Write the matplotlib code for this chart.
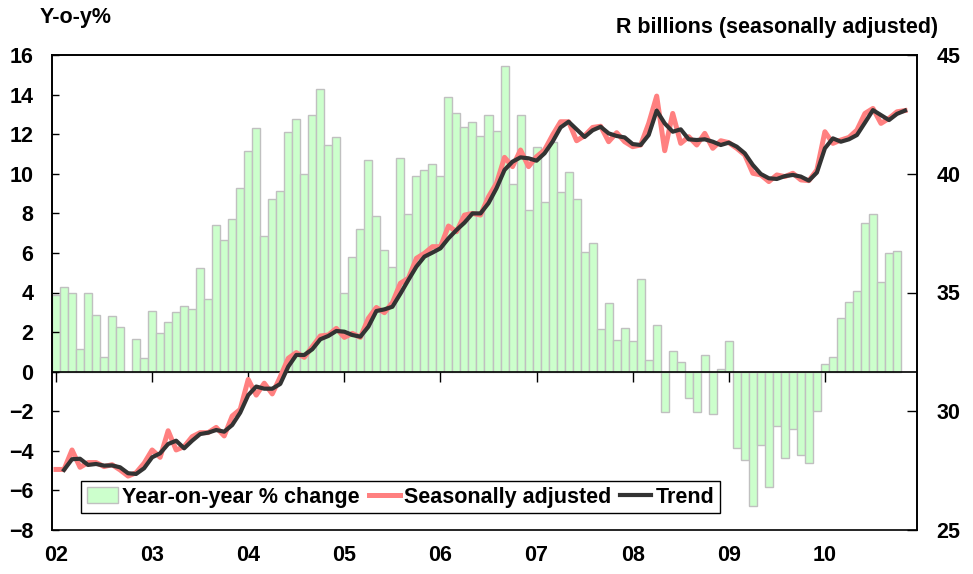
import matplotlib
matplotlib.use('Agg')
import matplotlib.pyplot as plt
import numpy as np

# monthly, Jan 2002 onwards
yoy = [3.85, 4.30, 3.97, 1.15, 3.97, 2.87, 0.76, 2.80, 2.24, 0.0, 1.65, 0.68,
       3.07, 1.96, 2.50, 3.02, 3.31, 3.19, 5.23, 3.65, 7.43, 6.65, 7.73, 9.28,
       11.16, 12.30, 6.87, 8.74, 9.11, 12.10, 12.78, 10.01, 12.95, 14.26, 11.43, 11.88,
       3.98, 5.81, 7.21, 10.67, 7.86, 6.13, 5.30, 10.82, 7.95, 9.87, 10.21, 10.51,
       9.87, 13.87, 13.06, 12.34, 12.62, 11.93, 12.95, 12.15, 15.43, 9.50, 12.95, 8.15,
       11.36, 8.59, 11.60, 9.08, 10.11, 8.74, 6.04, 6.51, 2.14, 3.48, 1.60, 2.19,
       1.55, 4.66, 0.59, 2.38, -2.05, 1.03, 0.51, -1.34, -2.02, 0.84, -2.14, 0.12,
       1.54, -3.85, -4.47, -6.78, -3.69, -5.83, -2.73, -4.37, -2.90, -4.19, -4.59, -1.98,
       0.39, 0.73, 2.73, 3.53, 4.10, 7.51, 7.95, 4.54, 6.01, 6.11]

seas_adj = [27.55, 27.55, 28.37, 27.64, 27.84, 27.84, 27.67, 27.75, 27.53, 27.27, 27.41, 27.81,
            28.37, 28.06, 29.18, 28.37, 28.51, 28.93, 29.10, 29.10, 29.32, 28.96, 29.80, 30.08,
            31.34, 30.68, 31.18, 30.73, 31.45, 32.23, 32.47, 32.27, 32.72, 33.17, 33.21, 33.49,
            33.11, 33.28, 33.11, 33.91, 34.37, 34.15, 34.57, 35.39, 35.60, 36.44, 36.65, 36.93,
            36.93, 37.80, 37.56, 38.26, 38.33, 38.26, 39.03, 39.60, 40.69, 40.30, 41.00, 40.30,
            40.72, 41.00, 41.63, 42.19, 42.19, 41.39, 41.60, 41.95, 42.00, 41.35, 41.73, 41.35,
            41.14, 41.21, 42.12, 43.27, 40.97, 42.54, 41.28, 41.56, 41.21, 41.70, 41.07, 41.39,
            41.31, 41.07, 40.79, 40.02, 39.95, 39.67, 39.95, 39.88, 40.02, 39.74, 39.71, 40.16,
            41.77, 41.28, 41.42, 41.53, 41.84, 42.54, 42.75, 42.12, 42.33, 42.61, 42.66]

trend = [np.nan, 27.53, 27.98, 28.00, 27.74, 27.78, 27.71, 27.72, 27.64, 27.39, 27.36, 27.60,
         28.06, 28.23, 28.62, 28.76, 28.44, 28.76, 29.04, 29.10, 29.21, 29.14, 29.42, 29.94,
         30.68, 31.04, 30.95, 30.95, 31.15, 31.88, 32.37, 32.37, 32.61, 33.03, 33.17, 33.38,
         33.35, 33.21, 33.14, 33.56, 34.22, 34.29, 34.40, 34.95, 35.53, 36.09, 36.51, 36.68,
         36.86, 37.28, 37.63, 37.94, 38.33, 38.33, 38.76, 39.39, 40.16, 40.51, 40.69, 40.65,
         40.55, 40.86, 41.35, 41.95, 42.19, 41.87, 41.55, 41.83, 41.98, 41.70, 41.59, 41.53,
         41.25, 41.21, 41.63, 42.66, 42.12, 41.77, 41.87, 41.45, 41.42, 41.45, 41.35, 41.21,
         41.31, 41.14, 40.86, 40.37, 39.99, 39.81, 39.78, 39.90, 39.95, 39.88, 39.71, 40.05,
         41.07, 41.49, 41.35, 41.45, 41.63, 42.15, 42.68, 42.47, 42.26, 42.52, 42.66]

years = ['02', '03', '04', '05', '06', '07', '08', '09', '10']

FS = 15.5
plt.rcParams['font.family'] = ['Liberation Sans', 'DejaVu Sans']
plt.rcParams['font.weight'] = 'bold'
plt.rcParams['font.size'] = FS

fig = plt.figure(figsize=(9.73, 5.74), dpi=100)
ax = fig.add_axes([52 / 973, 1 - 530 / 574, 865 / 973, 475 / 574])

xb = np.arange(len(yoy))
bars = ax.bar(xb, yoy, width=1.0, color='#ccffcc', edgecolor='#c0c0c0', linewidth=1.0,
              label='Year-on-year % change')
ax.set_xlim(-0.5, 12 * len(years) - 0.5)
ax.set_ylim(-8, 16)
ax.set_yticks(np.arange(-8, 17, 2))
ax.tick_params(axis='y', direction='in', length=5, width=1, pad=13.5, labelsize=FS)

# category axis crosses at zero, ticks between years
ax.axhline(0, color='black', lw=1.2, zorder=3)
ax.spines['bottom'].set_visible(False)
ax.set_xticks(np.arange(0, 12 * len(years) + 1, 12) - 0.5)
ax.tick_params(axis='x', direction='out', length=7, width=1, labelbottom=False)
shift = matplotlib.transforms.ScaledTranslation(0, (530 - 372) / 100, fig.dpi_scale_trans)
for t in ax.xaxis.get_major_ticks():
    t.tick1line.set_transform(ax.get_xaxis_transform() + shift)

ax2 = ax.twinx()
xl = np.arange(len(seas_adj))
ax2.plot(xl, seas_adj, color='#ff8080', lw=3.6, label='Seasonally adjusted', solid_joinstyle='round')
ax2.plot(xl, trend, color='#333333', lw=3.0, label='Trend', solid_joinstyle='round')
ax2.set_ylim(25, 45)
ax2.set_yticks(np.arange(25, 46, 5))
ax2.tick_params(axis='y', direction='in', length=7, width=1, pad=14, labelsize=FS)

ax2.xaxis.set_visible(True)
ax2.set_xticks(np.arange(0, 12 * len(years), 12))
ax2.set_xticklabels(years)
ax2.tick_params(axis='x', length=0, pad=11, labelsize=FS)

for a in (ax, ax2):
    for s in a.spines.values():
        s.set_linewidth(1.2)

h1, l1 = ax.get_legend_handles_labels()
h2, l2 = ax2.get_legend_handles_labels()
leg = ax2.legend(h1 + h2, l1 + l2, ncol=3, loc='lower left', bbox_to_anchor=(0.034, 0.036),
                 frameon=True, fancybox=False, edgecolor='black', framealpha=1,
                 handlelength=1.45, handletextpad=0.2, columnspacing=0.4,
                 borderpad=0.25, borderaxespad=0, fontsize=FS)
leg.get_frame().set_linewidth(1.0)

fig.text(40 / 973, 1 - 17 / 574, 'Y-o-y%', ha='left', va='center', fontsize=FS, fontweight='bold')
fig.text(938 / 973, 1 - 27 / 574, 'R billions (seasonally adjusted)', ha='right', va='center',
         fontsize=FS, fontweight='bold')

plt.savefig('out.png', dpi=100)
